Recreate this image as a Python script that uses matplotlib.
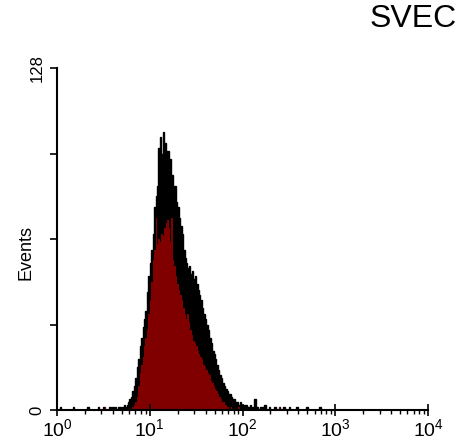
import numpy as np
import matplotlib
matplotlib.use("Agg")
import matplotlib.pyplot as plt
from matplotlib.ticker import FixedLocator, NullFormatter

plt.rcParams["font.family"] = ["Liberation Sans", "DejaVu Sans"]
plt.rcParams["mathtext.fontset"] = "custom"
plt.rcParams["mathtext.rm"] = "Liberation Sans"
plt.rcParams["mathtext.it"] = "Liberation Sans:italic"

# ── data: 256 log channels over 4 decades ─────────────────────────────────────
N_CHANNELS = 256
CH_PER_DECADE = 64

# black (reference) histogram, channels 40..140
black_start = 40
black_body = [
    1, 0, 1, 1, 0, 1, 2, 1, 2, 3,
    4, 5, 7, 9, 12, 16, 19, 24, 27, 31,
    34, 37, 44, 50, 55, 60, 66, 76, 80, 84,
    98, 102, 96, 104, 100, 95, 97, 92, 94, 88,
    83, 84, 78, 76, 72, 69, 66, 60, 57, 55,
    53, 54, 51, 52, 49, 50, 47, 45, 43, 41,
    38, 36, 34, 32, 30, 27, 25, 22, 21, 19,
    17, 15, 13, 12, 10, 9, 8, 7, 6, 6,
    5, 4, 4, 3, 3, 2, 3, 2, 2, 1,
    2, 1, 1, 2, 1, 1, 4, 1, 1, 0,
    1,
]
# sparse events outside the main body {channel: count}
black_sparse = {2: 1, 11: 1, 21: 1, 28: 1, 32: 1, 36: 1, 38: 1,
                141: 1, 143: 2, 146: 1, 150: 1, 153: 1, 156: 1,
                160: 1, 165: 1, 172: 1, 181: 1}

# red (sample) histogram, channels 50..120
red_start = 50
red_body = [
    0, 0, 1, 2, 3, 5, 9, 14, 17, 20,
    24, 27, 30, 36, 41, 48, 56, 60, 72, 62,
    64, 63, 66, 65, 68, 70, 71, 68, 63, 72,
    56, 54, 50, 47, 45, 43, 41, 38, 36, 34,
    36, 33, 30, 28, 26, 25, 24, 22, 21, 20,
    19, 17, 16, 15, 14, 13, 11, 10, 9, 8,
    7, 6, 5, 4, 3, 3, 2, 1, 1, 0,
    1,
]
red_sparse = {33: 1, 125: 1, 153: 1}

x_ticks = [1, 10, 100, 1000, 10000]
x_labels = ["$10^{0}$", "$10^{1}$", "$10^{2}$", "$10^{3}$", "$10^{4}$"]
y_ticks = [0, 32, 64, 96, 128]
y_labels = ["0", "", "", "", "128"]


def build_counts(start, body, sparse):
    counts = np.zeros(N_CHANNELS)
    counts[start:start + len(body)] = body
    for ch, c in sparse.items():
        counts[ch] = c
    return counts


black = build_counts(black_start, black_body, black_sparse)
red = build_counts(red_start, red_body, red_sparse)
edges = 10 ** (np.arange(N_CHANNELS + 1) / CH_PER_DECADE)

# ── figure ────────────────────────────────────────────────────────────────────
fig = plt.figure(figsize=(4.57, 4.46), dpi=100)
ax = fig.add_axes([57 / 457, 1 - 410 / 446, (428 - 57) / 457, (410 - 68) / 446])

ax.stairs(black, edges, fill=True, color="black")
ax.stairs(black, edges, color="black", linewidth=1.0)
ax.stairs(red, edges, fill=True, color="#800000")

ax.set_xscale("log")
ax.set_xlim(1, 10000)
ax.set_ylim(0, 128)

ax.xaxis.set_major_locator(FixedLocator(x_ticks))
ax.set_xticklabels(x_labels, fontsize=14)
minor = [m * 10 ** d for d in range(4) for m in range(2, 10)]
ax.xaxis.set_minor_locator(FixedLocator(minor))
ax.xaxis.set_minor_formatter(NullFormatter())
ax.tick_params(axis="x", which="major", direction="inout", length=8, width=1.2, pad=2)
ax.tick_params(axis="x", which="minor", direction="out", length=3, width=1.0)

ax.set_yticks(y_ticks)
ax.set_yticklabels(y_labels, fontsize=12, rotation=90, va="center")
ax.tick_params(axis="y", which="major", direction="out", length=5, width=1.2, pad=4)
ax.set_ylabel("Events", fontsize=13)
ax.yaxis.set_label_coords(-(57 - 34) / 371, 0.46)

for side in ("top", "right"):
    ax.spines[side].set_visible(False)
for side in ("left", "bottom"):
    ax.spines[side].set_linewidth(1.5)

fig.text(370 / 457, 1 - 27 / 446, "SVEC", fontsize=23, va="baseline", ha="left")

fig.savefig("out.png", dpi=100)
